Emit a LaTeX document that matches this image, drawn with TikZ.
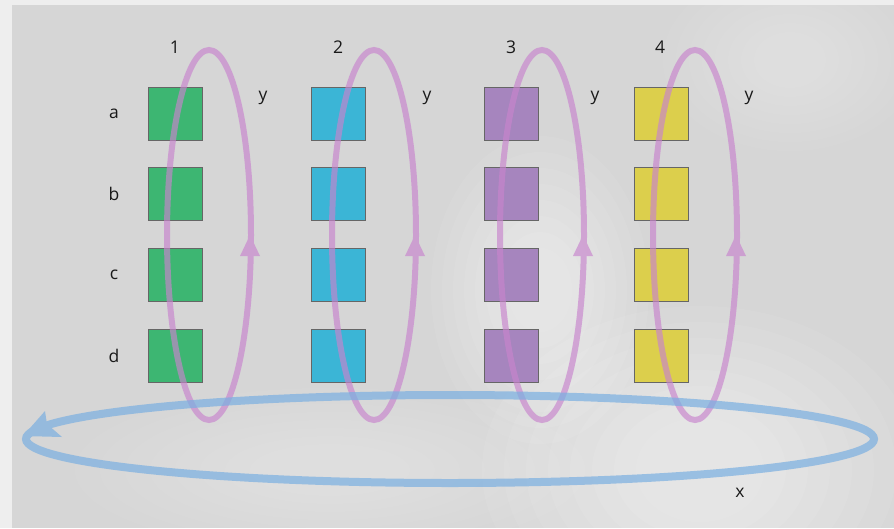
\documentclass[tikz,border=0pt]{standalone}
\usepackage{fontspec}
\setmainfont{Open Sans}
\definecolor{bgedge}{HTML}{EEEEEE}
\definecolor{bgmain}{HTML}{D6D6D6}
\definecolor{cgreen}{HTML}{3DB672}
\definecolor{ccyan}{HTML}{3BB5D6}
\definecolor{cpurple}{HTML}{A685BE}
\definecolor{cyellow}{HTML}{DCCF4C}
\definecolor{pinkline}{RGB}{200,132,205}
\definecolor{blueline}{RGB}{122,175,225}
\begin{document}
\begin{tikzpicture}[x=1pt,y=-1pt,
  font=\fontsize{17.5}{20}\selectfont,
  cell/.style={draw=black!60, line width=0.8pt, minimum width=54pt, minimum height=53pt, inner sep=0pt, anchor=north west},
  lbl/.style={text=black!90, inner sep=0pt},
  loopline/.style={line width=6pt},
  xline/.style={line width=8pt},
  glow/.style={fill=white, opacity=0.07}]
\useasboundingbox (0,0) rectangle (894,528);
% background
\fill[bgedge] (0,0) rectangle (894,528);
\fill[bgmain] (12,5) rectangle (894,528);
\begin{scope}
\clip (12,5) rectangle (894,528);
\foreach \k in {1,...,8}{
  \fill[glow] (700,470) ellipse ({240-22*\k} and {180-16*\k});
  \fill[glow] (540,290) ellipse ({120-11*\k} and {170-16*\k});
  \fill[glow, opacity=0.04] (330,470) ellipse ({280-25*\k} and {90-8*\k});
  \fill[glow, opacity=0.04] (790,60) ellipse ({140-13*\k} and {100-9*\k});
}
\end{scope}
% column and row labels
\node[lbl] (n1) at (175,47) {1};
\node[lbl] (n2) at (338,47) {2};
\node[lbl] (n3) at (511,47) {3};
\node[lbl] (n4) at (660,47) {4};
\node[lbl] (ra) at (114,114) {a};
\node[lbl] (rb) at (114,194) {b};
\node[lbl] (rc) at (114,275) {c};
\node[lbl] (rd) at (114,356) {d};
% cells
\foreach \c/\x/\col in {1/148/cgreen, 2/311/ccyan, 3/484/cpurple, 4/634/cyellow}{
  \foreach \r/\y in {a/87, b/167, c/248, d/329}{
    \node[cell, fill=\col] (b\c\r) at (\x,\y) {};
  }
}
% vertical loops
\foreach \c/\cx/\yl in {1/209/263, 2/374/427, 3/542/595, 4/695/749}{
  \begin{scope}[transparency group, opacity=0.66]
    \draw[pinkline, loopline] (\cx,235) ellipse (42 and 185);
    \fill[pinkline] (\cx+41,235) -- (\cx+51,256) -- (\cx+31,256) -- cycle;
  \end{scope}
  \node[lbl] (y\c) at (\yl,98) {y};
}
% horizontal loop
\begin{scope}[transparency group, opacity=0.7]
  \draw[blueline, xline] (450,439) ellipse (424 and 44);
  \fill[blueline] (23,436) -- (45,411) -- (47,424) -- (62,437) -- cycle;
\end{scope}
\node[lbl] (xl) at (740,493) {x};
\end{tikzpicture}
\end{document}
